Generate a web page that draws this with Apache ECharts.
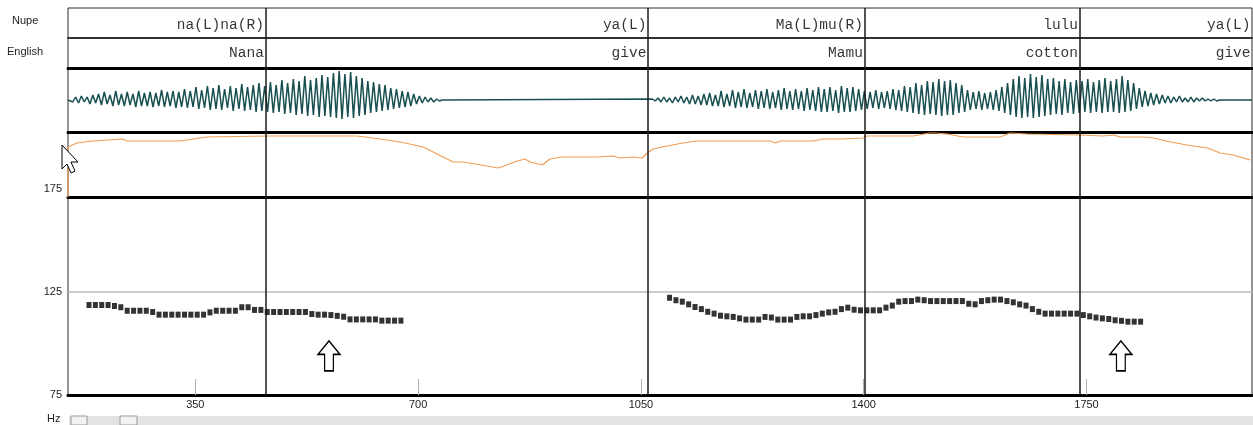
<!DOCTYPE html>
<html><head><meta charset="utf-8">
<script src="https://cdn.jsdelivr.net/npm/echarts@6/dist/echarts.min.js"></script>
<style>html,body{margin:0;padding:0;background:#fff}#c{width:1253px;height:425px}</style>
</head><body><div id="c"></div>
<script>
// ---------- data (time in ms) ----------
const tierEnds = [460, 1061, 1401, 1739, 2010];
const nupeLabels = ['na(L)na(R)', 'ya(L)', 'Ma(L)mu(R)', 'lulu', 'ya(L)'];
const englishLabels = ['Nana', 'give', 'Mamu', 'cotton', 'give'];
const boundaries = [460, 1061, 1401, 1739];
const xTicks = [350, 700, 1050, 1400, 1750];
const yTicks = [75, 125, 175];

// waveform envelope (peak up / peak down per glottal pulse)
const wave1Start = 153, wave2Start = 1068, waveStep = 9;
const wave1Hi = [2,3,4,3,5, 6,8,5,9,6, 8,6,9,7,8, 7,10,8,9,8, 11,9,13,10,14, 12,15,11,14,12,
  16,13,15,17,14, 18,15,20,17,21, 19,24,20,22,25, 23,27,29,26,28, 24,22,19,18,16, 15,12,11,9,8, 6,4,3,2,1];
const wave1Lo = [2,3,2,4,3, 5,4,6,5,6, 5,7,6,6,7, 6,7,6,8,7, 8,7,9,8,10, 9,10,8,11,9,
  11,10,12,11,12, 13,12,14,13,15, 14,16,15,17,16, 17,18,19,17,18, 16,15,13,12,11, 10,9,8,7,6, 4,3,2,2,1];
const wave2Hi = [1,2,3,2,3, 4,3,5,4,6, 7,5,9,6,10, 8,11,7,10,9, 11,8,10,12,9, 11,9,12,10,13,
  11,13,10,14,12, 13,11,9,8,10, 8,9,11,10,14, 13,17,15,19,18, 21,19,20,17,15, 10,8,9,7,8,
  10,13,17,21,24, 22,26,23,25,21, 22,19,21,18,20, 19,21,18,20,22, 19,21,24,20,17, 12,9,7,6,5, 4,3,4,2,3, 2,2,1,1];
const wave2Lo = [1,2,2,3,2, 3,4,4,5,5, 6,6,7,6,8, 7,8,7,9,8, 9,8,10,9,10, 9,11,10,11,12,
  12,11,13,12,12, 11,10,9,8,9, 8,9,10,11,12, 13,14,15,14,15, 16,15,15,13,12, 10,9,10,9,10,
  11,13,15,17,18, 17,18,17,16,15, 14,15,13,14,13, 12,13,12,13,12, 12,13,12,11,9, 7,6,5,4,3, 3,2,2,2,2, 1,1,1,1];

// orange contour (level above panel floor)
const orangeTime = [150,150,164,189,236,243,326,368,463,604,640,672,708,755,771,826,856,868,876,895,907,926,955,981,1006,1017,1038,1052,1060,1069,1091,1116,1138,1164,1253,1261,1269,1321,1336,1363,1399,1405,1478,1504,1512,1531,1556,1614,1630,1657,1739,1776,1792,1803,1839,1855,1882,1908,1940,1960,1981,2007];
const orangeLevel = [0,50,54,56,58,56,56,60,61,61,58,55,50,35,35,29,36,38,35,32,38,40,40,40,41,39,40,39,44,48,51,54,56,56,56,54,56,56,58,58,59,61,61,64,64,63,60,60,64,63,62,61,62,60,60,59,55,52,49,44,42,37];

// pitch track (Hz), one point each 10 ms
const pitch1Start = 183, pitch2Start = 1095, pitchStep = 10;
const pitch1Hz = [118.7,118.7,118.7,118.7,118.2,117.6,115.9,115.9,115.9,115.9,
  115.3,114.0,114.0,114.0,114.0,114.0,114.0,114.0,114.0,115.1,
  115.9,115.9,115.9,115.9,117.6,117.6,116.3,116.3,115.3,115.3,
  115.3,115.3,115.3,115.3,115.3,114.3,114.0,114.0,113.8,113.4,
  113.0,111.7,111.7,111.7,111.7,111.7,111.1,111.1,111.1,111.1];
const pitch2Hz = [122.2,121.0,120.3,119.0,117.7,116.7,115.4,114.5,113.5,113.2,
  112.9,112.2,111.6,111.6,111.6,112.9,112.6,111.6,111.6,111.6,
  112.9,113.2,113.2,113.8,114.5,115.1,115.4,116.7,117.4,116.4,
  116.1,116.1,116.1,116.1,117.4,118.4,120.3,120.6,120.6,121.3,
  121.0,120.6,120.6,120.6,120.6,120.6,120.6,119.3,119.0,120.6,
  121.0,121.3,121.3,120.6,120.0,119.0,118.4,116.7,115.4,114.5,
  114.5,114.5,114.5,114.5,114.5,113.8,113.2,112.6,112.2,111.9,
  111.3,111.0,110.6,110.6,110.6];
const arrowTimes = [560, 1804];
const arrowHz = [94, 94];

// ---------- build ----------
const X0 = 150, X1 = 2010;
function zig(start, hi, lo, out) {
  for (let i = 0; i < hi.length; i++) {
    const t = start + i * waveStep;
    out.push([t, hi[i]]);
    out.push([t + waveStep / 2, -lo[i]]);
  }
  out.push([start + hi.length * waveStep, 0]);
}
const wavePts = [[X0, 0]];
zig(wave1Start, wave1Hi, wave1Lo, wavePts);
zig(wave2Start, wave2Hi, wave2Lo, wavePts);
wavePts.push([X1, 0]);

const orangePts = orangeTime.map((t, i) => [t, orangeLevel[i]]);
const pitchPts = pitch1Hz.map((v, i) => [pitch1Start + i * pitchStep, v])
  .concat(pitch2Hz.map((v, i) => [pitch2Start + i * pitchStep, v]));

const L = 68, W = 1184;
const FONT = 'Liberation Sans, Arial, sans-serif';
const grids = [
  { left: L, width: W, top: 8, height: 30 },    // 0 Nupe
  { left: L, width: W, top: 38, height: 30 },   // 1 English
  { left: L, width: W, top: 68, height: 64 },   // 2 waveform
  { left: L, width: W, top: 132, height: 65 },  // 3 orange
  { left: L, width: W, top: 189, height: 206 }, // 4 pitch
  { left: L, width: W, top: 8, height: 387, show: true, borderColor: '#2a2a2a', borderWidth: 1, backgroundColor: 'transparent' } // 5 frame
];
const lineW = [2, 3, 3, 3, 3, 0];
const xAxes = grids.map((g, i) => ({
  type: 'value', gridIndex: i, min: X0, max: X1,
  show: i !== 5,
  axisLine: { show: lineW[i] > 0, onZero: false, lineStyle: { color: i === 0 ? '#333' : '#000', width: lineW[i] } },
  axisTick: i === 4 ? { show: true, inside: true, length: 16, customValues: xTicks, lineStyle: { color: '#b0b0b0', width: 1 } } : { show: false },
  axisLabel: i === 4 ? { show: true, customValues: xTicks, formatter: v => String(v), fontFamily: FONT, fontSize: 11, color: '#222', margin: 4 } : { show: false },
  splitLine: { show: false }
}));
const yRanges = [[0, 1], [0, 1], [-32, 32], [0, 65], [75, 175], [0, 1]];
const yAxes = yRanges.map((r, i) => ({
  type: 'value', gridIndex: i, min: r[0], max: r[1],
  show: i === 4,
  interval: i === 4 ? 50 : undefined,
  axisLine: { show: false },
  axisTick: { show: false },
  axisLabel: i === 4 ? { show: true, customValues: yTicks, formatter: v => String(v), fontFamily: FONT, fontSize: 11, color: '#222', margin: 6 } : { show: false },
  splitLine: { show: false }
}));

function tierSeries(gi, labels, dy) {
  return {
    type: 'scatter', xAxisIndex: gi, yAxisIndex: gi, silent: true,
    symbolSize: 1, itemStyle: { color: 'transparent' },
    data: tierEnds.map(t => [t, 0.5]),
    label: {
      show: true, position: 'left', distance: 1, offset: [0, dy],
      formatter: p => labels[p.dataIndex],
      fontFamily: 'Liberation Mono, Courier New, monospace', fontSize: 14.5, color: '#000'
    },
    z: 5
  };
}

const option = {
  animation: false,
  backgroundColor: '#fff',
  grid: grids,
  xAxis: xAxes,
  yAxis: yAxes,
  series: [
    tierSeries(0, nupeLabels, 2),
    tierSeries(1, englishLabels, 0),
    {
      type: 'line', xAxisIndex: 2, yAxisIndex: 2, data: wavePts, symbol: 'none', silent: true,
      lineStyle: { color: '#184f50', width: 1.5 }, sampling: null, clip: true
    },
    {
      type: 'line', xAxisIndex: 3, yAxisIndex: 3, data: orangePts, symbol: 'none', silent: true,
      lineStyle: { color: '#ee9d52', width: 1.2 }, clip: true
    },
    {
      type: 'scatter', xAxisIndex: 4, yAxisIndex: 4, data: pitchPts, silent: true,
      symbol: 'rect', symbolSize: [5, 6], itemStyle: { color: '#000' },
      markLine: {
        silent: true, symbol: 'none', label: { show: false },
        lineStyle: { color: '#bdbdbd', width: 1.5, type: 'solid' },
        data: [{ yAxis: 125 }]
      },
      markPoint: {
        silent: true,
        symbol: 'path://M50,0 L100,45 L70,45 L70,100 L30,100 L30,45 L0,45 Z',
        symbolSize: [22, 30], symbolKeepAspect: false,
        itemStyle: { color: '#fff', borderColor: '#000', borderWidth: 1.4 },
        label: { show: false },
        data: arrowTimes.map((t, i) => ({ coord: [t, arrowHz[i]] }))
      }
    },
    {
      type: 'line', xAxisIndex: 5, yAxisIndex: 5, data: [[X0, 0]], symbol: 'none', silent: true,
      lineStyle: { width: 0 },
      markLine: {
        silent: true, symbol: 'none', label: { show: false },
        lineStyle: { color: '#1a1a1a', width: 1.5, type: 'solid' },
        data: boundaries.map(b => ({ xAxis: b }))
      },
      z: 6
    }
  ],
  graphic: [
    { type: 'text', left: 12, top: 15, style: { text: 'Nupe', font: '11px "Liberation Sans", Arial, sans-serif', fill: '#222' } },
    { type: 'text', left: 7, top: 46, style: { text: 'English', font: '11px "Liberation Sans", Arial, sans-serif', fill: '#222' } },
    { type: 'text', left: 47, top: 413, style: { text: 'Hz', font: '11px "Liberation Sans", Arial, sans-serif', fill: '#222' } },
    { type: 'rect', shape: { x: 69, y: 416, width: 1184, height: 9 }, style: { fill: '#e3e3e3' }, silent: true },
    { type: 'rect', shape: { x: 71, y: 416, width: 16, height: 9 }, style: { fill: '#f2f2f2', stroke: '#9a9a9a', lineWidth: 1 }, silent: true },
    { type: 'rect', shape: { x: 120, y: 416, width: 17, height: 9 }, style: { fill: '#f2f2f2', stroke: '#9a9a9a', lineWidth: 1 }, silent: true },
    { type: 'polygon', shape: { points: [[62,145],[62,169],[67,164],[71,173],[75,171],[71,162],[78,162]] },
      style: { fill: '#fff', stroke: '#000', lineWidth: 1 }, silent: true, z: 100 }
  ]
};
const chart = echarts.init(document.getElementById('c'), null, { renderer: 'canvas' });
chart.setOption(option);
</script>
</body></html>
